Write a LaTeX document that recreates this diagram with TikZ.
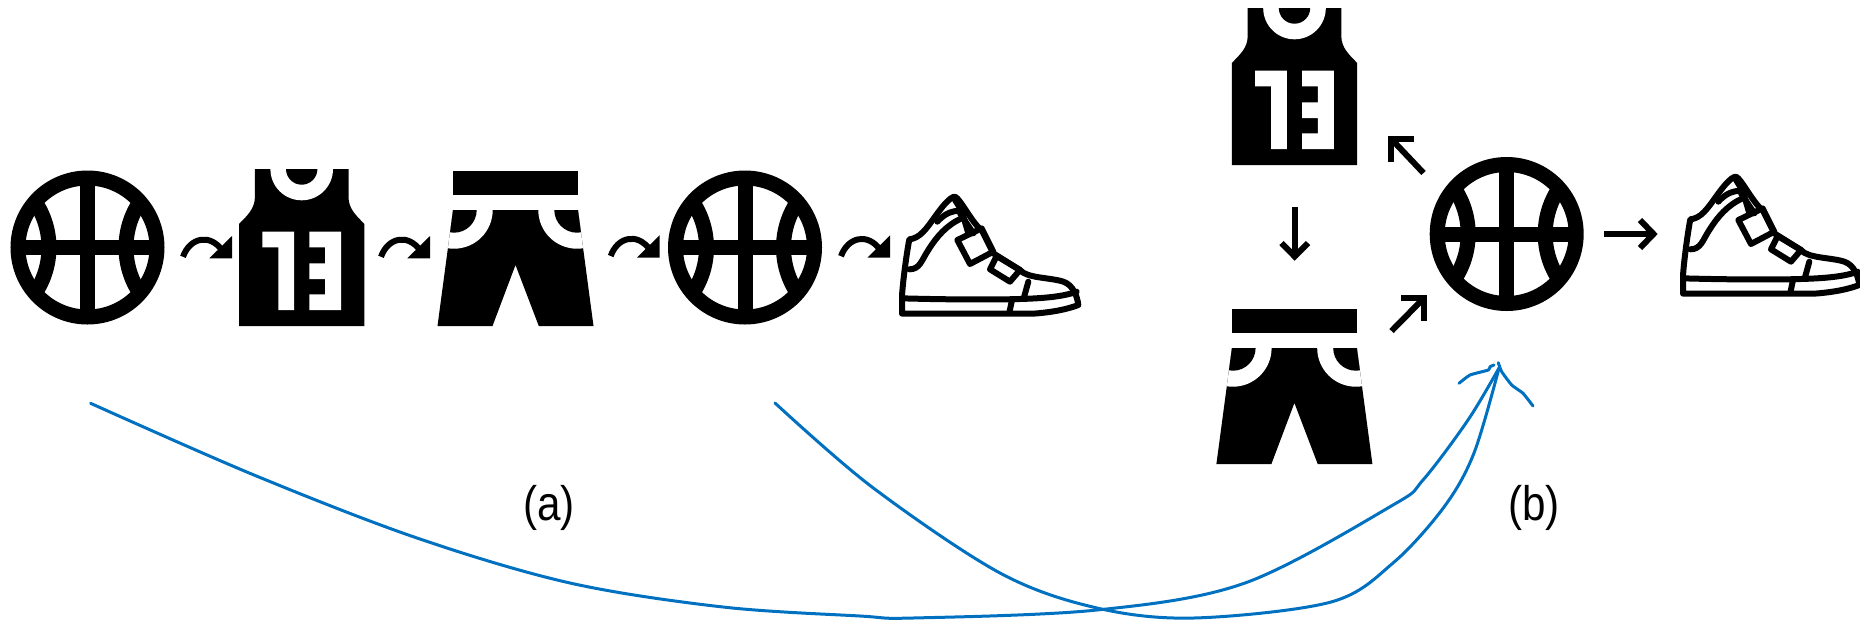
\documentclass[tikz,border=0pt]{standalone}
\usepackage{fontspec}
\setmainfont{Liberation Sans}
\definecolor{curveblue}{HTML}{0070C0}
\tikzset{
  ballicon/.pic={
    \begin{scope}
      \clip (0,0) circle[radius=74];
      \draw[line width=0.3cm] (-120.2,0) circle[radius=81.7];
      \draw[line width=0.3cm] (120.2,0) circle[radius=81.7];
      \draw[line width=0.3cm] (-75,0) -- (75,0);
      \draw[line width=0.3cm] (0,-75) -- (0,75);
    \end{scope}
    \draw[line width=0.3cm] (0,0) circle[radius=69.5];
  },
  jerseyicon/.pic={
    \fill (-46.8,0) -- (-46.8,28) .. controls (-46.8,40) and (-55,47) .. (-62.7,55)
      -- (-62.7,157) -- (62.7,157) -- (62.7,55)
      .. controls (55,47) and (46.8,40) .. (46.8,28) -- (46.8,0) -- cycle;
    \begin{scope}
      \clip (-70,0) rectangle (70,160);
      \fill[white] (0,0) circle[radius=31.3];
      \fill (0,0) circle[radius=15.7];
    \end{scope}
    \fill[white] (-39.4,62.7) -- (-7.7,62.7) -- (-7.7,141) -- (-23.4,141) -- (-23.4,78.3) -- (-39.4,78.3) -- cycle;
    \fill[white] (7.6,62.7) -- (39.3,62.7) -- (39.3,141) -- (7.6,141) -- (7.6,125.3) -- (23.3,125.3)
      -- (23.3,110) -- (7.6,110) -- (7.6,94.3) -- (23.3,94.3) -- (23.3,78.3) -- (7.6,78.3) -- cycle;
  },
  shortsicon/.pic={
    \begin{scope}
      \path[clip] (-62.5,39) -- (62.5,39) -- (78,155) -- (23.3,155) -- (0,94) -- (-23,155) -- (-78,155) -- cycle;
      \fill (-80,35) rectangle (80,160);
      \fill[white] (-61.5,39) circle[radius=38.7];
      \fill[white] (61.5,39) circle[radius=38.7];
      \fill (-61.5,39) circle[radius=22.7];
      \fill (61.5,39) circle[radius=22.7];
    \end{scope}
    \fill (-62.5,0) rectangle (62.5,24);
  },
  curvearrow/.pic={
    \draw[line width=0.12cm] (-49,-1.5) .. controls (-42,-21) and (-22,-25) .. (-10,-8);
    \fill (0,-22.3) -- (0,0) -- (-22.7,0) -- cycle;
  },
  shoeicon/.pic={
    \begin{scope}[x=0.00667cm,y=-0.00667cm,line width=0.12cm,line join=round,line cap=round]
      \draw (246,431) -- (246,380) .. controls (247,350) and (258,260) .. (268,208)
        .. controls (300,205) and (320,175) .. (345,140) .. controls (365,112) and (390,80) .. (405,80)
        .. controls (420,85) and (460,165) .. (485,180) -- (520,250) -- (600,300)
        .. controls (620,325) and (690,322) .. (730,335) .. controls (760,345) and (772,380) .. (775,405)
        .. controls (730,422) and (680,428) .. (640,431) -- cycle;
      \draw (246,385) .. controls (350,388) and (500,390) .. (600,387) .. controls (670,385) and (730,380) .. (770,365);
      \draw (268,298) .. controls (300,298) and (305,270) .. (325,240) .. controls (350,200) and (380,165) .. (425,145);
      \draw (352,155) .. controls (375,130) and (395,122) .. (425,122);
      \draw (405,90) -- (425,122) -- (445,190);
      \draw (420,130) -- (460,190);
      \draw (412,210) -- (485,175) -- (520,245) -- (450,282) -- cycle;
      \draw (510,298) -- (530,258) -- (600,300) -- (570,335) -- cycle;
      \draw (625,335) -- (612,382);
      \draw (575,395) -- (568,428);
    \end{scope}
  },
  blueline/.style={curveblue,line width=0.06cm,line join=round,line cap=round},
  blackarrow/.style={line width=0.12cm,miter limit=10},
  figlabel/.style={font=\fontsize{24pt}{28pt}\selectfont,inner sep=0pt,yscale=1.15,transform shape}
}
\begin{document}
\begin{tikzpicture}[x=0.02cm,y=-0.02cm]
\useasboundingbox (0,0) rectangle (1860,620);
% panel (a)
\pic at (87.5,247.5) {ballicon};
\pic at (301.7,169) {jerseyicon};
\pic at (515.5,171) {shortsicon};
\pic at (745,247.5) {ballicon};
\pic at (820,170) {shoeicon};
\pic at (232,258.3) {curvearrow};
\pic at (430,258.3) {curvearrow};
\pic at (659.7,257.5) {curvearrow};
\pic at (890,257.7) {curvearrow};
% panel (b)
\pic at (1294.5,8) {jerseyicon};
\pic at (1294.4,309) {shortsicon};
\pic at (1506.7,234) {ballicon};
\pic at (1601,150) {shoeicon};
% straight arrows
\coordinate (nwtail) at (1423.5,173);
\coordinate (nwtip) at (1391.3,139);
\draw[blackarrow] (nwtail) -- (nwtip);
\draw[blackarrow] (1414,139) -- (nwtip) -- (1391.3,162);
\coordinate (netail) at (1391.5,331);
\coordinate (netip) at (1423.7,298.3);
\draw[blackarrow] (netail) -- (netip);
\draw[blackarrow] (1401,298.3) -- (netip) -- (1423.7,320.7);
\coordinate (dtail) at (1294.7,207.3);
\coordinate (dtip) at (1294.7,256.5);
\draw[blackarrow] (dtail) -- (dtip);
\draw[blackarrow] (1281.5,243) -- (dtip) -- (1308,243);
\coordinate (rtail) at (1604.3,234);
\coordinate (rtip) at (1653.5,234);
\draw[blackarrow] (rtail) -- (rtip);
\draw[blackarrow] (1640,220) -- (rtip) -- (1640,248);
% blue sketched strokes
\draw[blueline] plot[smooth,tension=0.55] coordinates {(90.6,403.3) (254,475) (417,538) (570,583) (723,607) (860,616) (913,618) (1097,610) (1245,583) (1393,505) (1423,480) (1468,420) (1499,368)};
\draw[blueline] plot[smooth,tension=0.55] coordinates {(775,403) (872,487) (1000,573) (1097,608) (1194,618) (1331,602) (1393,563) (1444,507) (1474,453) (1499,368)};
\draw[blueline] plot[smooth,tension=0.3] coordinates {(1459,383.3) (1470,375) (1488.3,370) (1490,366.7) (1494,365)};
\draw[blueline] plot[smooth,tension=0.3] coordinates {(1498.3,362.7) (1501.7,371.7) (1511.7,385) (1523,393.3) (1533,406)};
% labels
\node[figlabel] (labela) at (549,508) {(a)};
\node[figlabel] (labelb) at (1534,508) {(b)};
\end{tikzpicture}
\end{document}
